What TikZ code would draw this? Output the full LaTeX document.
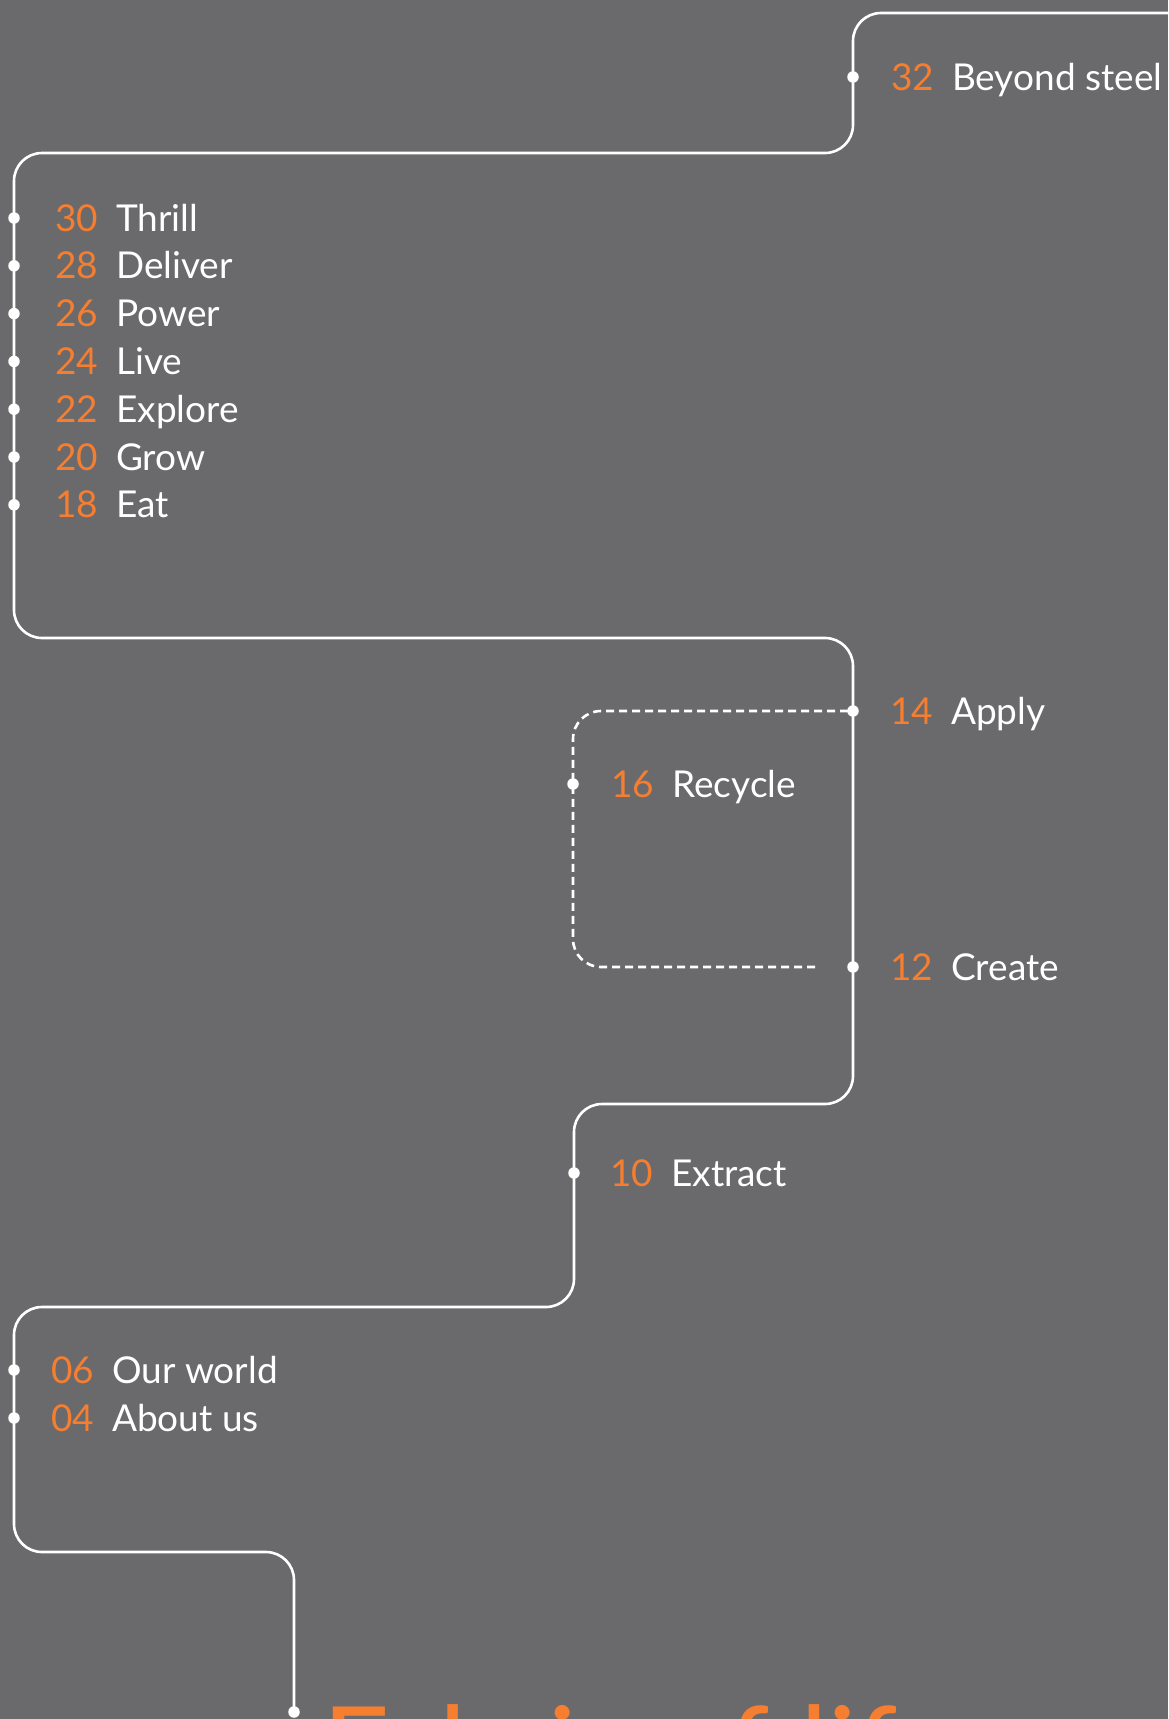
\documentclass[tikz,border=0pt]{standalone}
\usepackage{fontspec}
\setmainfont{Lato}
\definecolor{bg}{RGB}{106,106,108}
\definecolor{orng}{RGB}{245,126,48}
\begin{document}
\begin{tikzpicture}[x=1pt,y=-1pt,
  route/.style={draw=white,line width=2.6pt,rounded corners=28pt},
  dashroute/.style={draw=white,line width=2.6pt,rounded corners=28pt,dash pattern=on 8pt off 5pt},
  jdot/.style={circle,fill=white,inner sep=0pt,minimum size=11.5pt},
  numtxt/.style={anchor=base west,inner sep=0pt,text=orng,font=\fontsize{37}{40}\selectfont},
  lbltxt/.style={anchor=base west,inner sep=0pt,text=white,font=\fontsize{37}{40}\selectfont}]
\fill[bg] (0,0) rectangle (1168,1719);
\useasboundingbox (0,0) rectangle (1168,1719);
\clip (0,0) rectangle (1168,1719);

% corners of the route
\coordinate (p0) at (1172,13);
\coordinate (p1) at (853,13);
\coordinate (p2) at (853,153);
\coordinate (p3) at (14,153);
\coordinate (p4) at (14,638);
\coordinate (p5) at (853,638);
\coordinate (p6) at (853,1104);
\coordinate (p7) at (574,1104);
\coordinate (p8) at (574,1307);
\coordinate (p9) at (14,1307);
\coordinate (p10) at (14,1552);
\coordinate (p11) at (294,1552);
\node[jdot] (dend) at (294,1712) {};

% dashed loop
\coordinate (q0) at (815,967);
\coordinate (q1) at (573,967);
\coordinate (q2) at (573,711);
\node[jdot] (d14) at (853,711) {};

\draw[route] (p0) -- (p1) -- (p2) -- (p3) -- (p4) -- (p5) -- (p6) -- (p7) -- (p8) -- (p9) -- (p10) -- (p11) -- (dend.center);
\draw[dashroute] (q0) -- (q1) -- (q2) -- (d14.center);

% 32 Beyond steel
\node[jdot] (d32) at (853,77) {};
\node[numtxt] (n32) at (891,90) {32};
\node[lbltxt] (l32) at (952,90) {Beyond steel};

% left list
\foreach \n/\t [count=\i from 0] in {30/Thrill,28/Deliver,26/Power,24/Live,22/Explore,20/Grow,18/Eat}{
  \node[jdot] (d\n) at (14,218+47.8*\i) {};
  \node[numtxt] (n\n) at (55,231+47.8*\i) {\n};
  \node[lbltxt] (l\n) at (116,231+47.8*\i) {\t};
}

% 14 Apply
\node[numtxt] (n14) at (890,724) {14};
\node[lbltxt] (l14) at (951,724) {Apply};

% 16 Recycle
\node[jdot] (d16) at (573,784) {};
\node[numtxt] (n16) at (611,797) {16};
\node[lbltxt] (l16) at (672,797) {Recycle};

% 12 Create
\node[jdot] (d12) at (853,967) {};
\node[numtxt] (n12) at (890,980) {12};
\node[lbltxt] (l12) at (951,980) {Create};

% 10 Extract
\node[jdot] (d10) at (574,1173) {};
\node[numtxt] (n10) at (610,1186) {10};
\node[lbltxt] (l10) at (671,1186) {Extract};

% 06 / 04
\node[jdot] (d06) at (14,1370) {};
\node[numtxt] (n06) at (51,1383) {06};
\node[lbltxt] (l06) at (112,1383) {Our world};
\node[jdot] (d04) at (14,1418) {};
\node[numtxt] (n04) at (51,1431) {04};
\node[lbltxt] (l04) at (112,1431) {About us};

% title (cut off by the page edge, as in the original)
\node[anchor=base west,inner sep=0pt,text=orng,font=\fontsize{118}{118}\selectfont] (title) at (322,1791) {Fabric of life};
\end{tikzpicture}
\end{document}
